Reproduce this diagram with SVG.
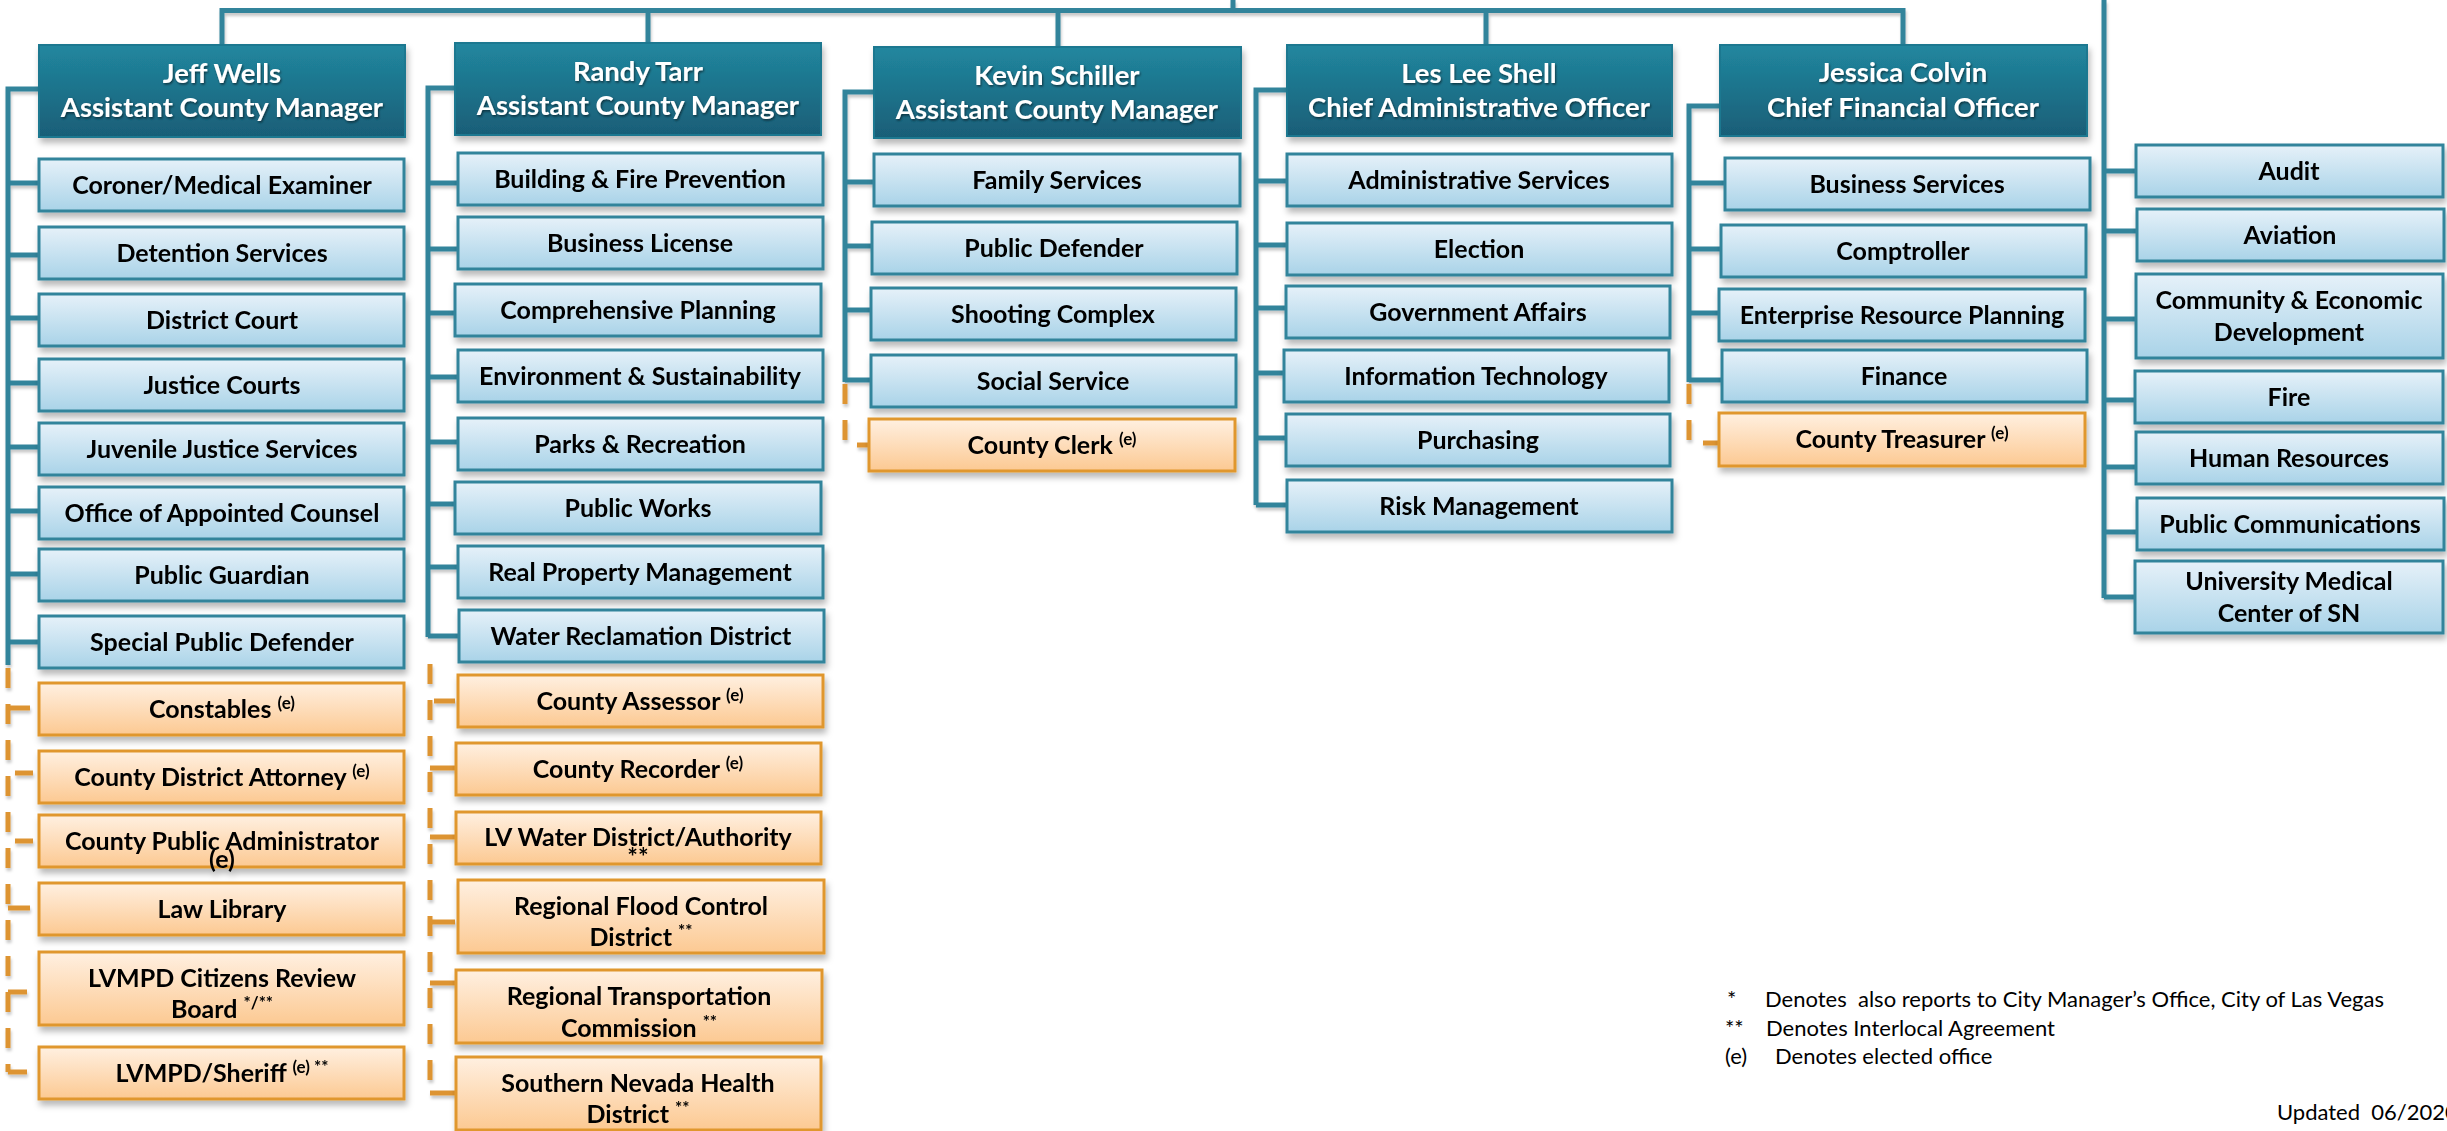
<svg xmlns="http://www.w3.org/2000/svg" width="2447" height="1131" viewBox="0 0 2447 1131">
<defs>
<linearGradient id="gh" x1="0" y1="0" x2="0" y2="1"><stop offset="0" stop-color="#21879F"/><stop offset="1" stop-color="#195E77"/></linearGradient>
<linearGradient id="gb" x1="0" y1="0" x2="0" y2="1"><stop offset="0" stop-color="#E6F1F9"/><stop offset="1" stop-color="#A9D3E8"/></linearGradient>
<linearGradient id="go" x1="0" y1="0" x2="0" y2="1"><stop offset="0" stop-color="#FFF0E1"/><stop offset="1" stop-color="#FCC992"/></linearGradient>
<filter id="sh" x="-5%" y="-20%" width="112%" height="150%"><feDropShadow dx="2" dy="5" stdDeviation="3" flood-color="#000" flood-opacity="0.28"/></filter>
<filter id="ls" x="-5%" y="-5%" width="110%" height="110%"><feDropShadow dx="1" dy="3" stdDeviation="1.5" flood-color="#000" flood-opacity="0.22"/></filter>
<filter id="ts" x="-5%" y="-20%" width="110%" height="150%"><feDropShadow dx="1" dy="1.5" stdDeviation="1" flood-color="#000" flood-opacity="0.55"/></filter>
</defs>
<style>
.node{filter:url(#sh)}
.hdr rect{fill:url(#gh);stroke:#1E7890;stroke-width:2}
.box rect{fill:url(#gb);stroke:#31849B;stroke-width:3}
.obox rect{fill:url(#go);stroke:#E0972F;stroke-width:3}
text{font-family:Lato,"Liberation Sans",sans-serif;font-weight:700;text-anchor:middle;fill:#000}
.hdr text{fill:#fff;font-size:27.5px;filter:url(#ts)}
.box text,.obox text{font-size:25px}
.s{font-size:17px}
.bl{fill:none;stroke:#31849B;stroke-width:5}
.ol{fill:none;stroke:#DD9431;stroke-width:5}
.od{fill:none;stroke:#DD9431;stroke-width:5;stroke-dasharray:20 16}
.lg{font-weight:400;font-size:22px;text-anchor:start;white-space:pre}
</style>

<g id="connectors" filter="url(#ls)">
<path class="bl" d="M222,45 V10.5 H1903 V45 M1233,0 V10.5 M648,10.5 V43 M1058,10.5 V47 M1486,10.5 V45"/>
<path class="bl" d="M39,89 H8 V665 M8,183 H39 M8,255 H39 M8,318 H39 M8,383 H39 M8,447 H39 M8,511 H39 M8,574 H39 M8,642 H39"/>
<path class="bl" d="M455,88 H428 V637 M428,183 H458 M428,249 H458 M428,313 H455 M428,377 H458 M428,442 H458 M428,504 H455 M428,567 H458 M428,636 H459"/>
<path class="bl" d="M874,92 H845 V382 M845,182 H874 M845,246 H872 M845,310 H871 M845,380 H871"/>
<path class="bl" d="M1287,90 H1256 V505 M1256,181 H1287 M1256,245 H1287 M1256,308 H1286 M1256,373 H1284 M1256,438 H1286 M1256,505 H1287"/>
<path class="bl" d="M1720,106 H1689 V382 M1689,183 H1725 M1689,249 H1721 M1689,313 H1719 M1689,380 H1722"/>
<path class="bl" d="M2104,0 V598 M2104,171 H2136 M2104,231 H2137 M2104,319 H2136 M2104,400 H2135 M2104,467 H2136 M2104,532 H2137 M2104,597 H2135"/>
<path class="od" d="M8,668 V1072"/>
<path class="ol" d="M8,708 H30 M15,773 H33 M15,841 H33 M8,908 H30 M8,992 H27 M8,1072 H27"/>
<path class="od" d="M430,664 V1095"/>
<path class="ol" d="M434,701 H455 M430,768 H456 M430,837 H456 M430,922 H455 M430,983 H456 M430,1093 H456"/>
<path class="od" d="M845,384 V445"/>
<path class="ol" d="M857,445 H869"/>
<path class="od" d="M1689,384 V443"/>
<path class="ol" d="M1703,443 H1719"/>
</g>

<g id="jeff-wells" class="node hdr"><rect x="39" y="45" width="366" height="92"/><text x="222" y="83">Jeff Wells</text><text x="222" y="117">Assistant County Manager</text></g>
<g id="randy-tarr" class="node hdr"><rect x="455" y="43" width="366" height="92"/><text x="638" y="81">Randy Tarr</text><text x="638" y="115">Assistant County Manager</text></g>
<g id="kevin-schiller" class="node hdr"><rect x="874" y="47" width="367" height="91"/><text x="1057" y="85">Kevin Schiller</text><text x="1057" y="119">Assistant County Manager</text></g>
<g id="les-lee-shell" class="node hdr"><rect x="1287" y="45" width="385" height="91"/><text x="1479" y="83">Les Lee Shell</text><text x="1479" y="117">Chief Administrative Officer</text></g>
<g id="jessica-colvin" class="node hdr"><rect x="1720" y="45" width="367" height="91"/><text x="1903" y="82">Jessica Colvin</text><text x="1903" y="117">Chief Financial Officer</text></g>

<g id="coroner" class="node box"><rect x="39" y="159" width="365" height="52"/><text x="222" y="194">Coroner/Medical Examiner</text></g>
<g id="detention" class="node box"><rect x="39" y="227" width="365" height="52"/><text x="222" y="262">Detention Services</text></g>
<g id="district-court" class="node box"><rect x="39" y="294" width="365" height="52"/><text x="222" y="329">District Court</text></g>
<g id="justice-courts" class="node box"><rect x="39" y="359" width="365" height="52"/><text x="222" y="394">Justice Courts</text></g>
<g id="juvenile" class="node box"><rect x="39" y="423" width="365" height="52"/><text x="222" y="458">Juvenile Justice Services</text></g>
<g id="appointed-counsel" class="node box"><rect x="39" y="487" width="365" height="52"/><text x="222" y="522">Office of Appointed Counsel</text></g>
<g id="public-guardian" class="node box"><rect x="39" y="549" width="365" height="52"/><text x="222" y="584">Public Guardian</text></g>
<g id="special-pd" class="node box"><rect x="39" y="616" width="365" height="52"/><text x="222" y="651">Special Public Defender</text></g>
<g id="constables" class="node obox"><rect x="39" y="683" width="365" height="52"/><text x="222" y="718">Constables <tspan class="s" dy="-9">(e)</tspan></text></g>
<g id="county-da" class="node obox"><rect x="39" y="751" width="365" height="52"/><text x="222" y="786">County District Attorney <tspan class="s" dy="-9">(e)</tspan></text></g>
<g id="county-pa" class="node obox"><rect x="39" y="815" width="365" height="52"/><text x="222" y="850">County Public Administrator</text><text class="s" x="222" y="868">(e)</text></g>
<g id="law-library" class="node obox"><rect x="39" y="883" width="365" height="52"/><text x="222" y="918">Law Library</text></g>
<g id="lvmpd-crb" class="node obox"><rect x="39" y="952" width="365" height="73"/><text x="222" y="987">LVMPD Citizens Review</text><text x="222" y="1018">Board <tspan class="s" dy="-9">*/**</tspan></text></g>
<g id="lvmpd-sheriff" class="node obox"><rect x="39" y="1047" width="365" height="52"/><text x="222" y="1082">LVMPD/Sheriff <tspan class="s" dy="-9">(e) **</tspan></text></g>

<g id="building-fire" class="node box"><rect x="458" y="153" width="365" height="52"/><text x="640" y="188">Building &amp; Fire Prevention</text></g>
<g id="business-license" class="node box"><rect x="458" y="217" width="365" height="52"/><text x="640" y="252">Business License</text></g>
<g id="comprehensive-planning" class="node box"><rect x="455" y="284" width="366" height="52"/><text x="638" y="319">Comprehensive Planning</text></g>
<g id="environment" class="node box"><rect x="458" y="350" width="365" height="52"/><text x="640" y="385">Environment &amp; Sustainability</text></g>
<g id="parks" class="node box"><rect x="458" y="418" width="365" height="52"/><text x="640" y="453">Parks &amp; Recreation</text></g>
<g id="public-works" class="node box"><rect x="455" y="482" width="366" height="52"/><text x="638" y="517">Public Works</text></g>
<g id="real-property" class="node box"><rect x="458" y="546" width="365" height="52"/><text x="640" y="581">Real Property Management</text></g>
<g id="water-reclamation" class="node box"><rect x="459" y="610" width="365" height="52"/><text x="641" y="645">Water Reclamation District</text></g>
<g id="county-assessor" class="node obox"><rect x="458" y="675" width="365" height="52"/><text x="640" y="710">County Assessor <tspan class="s" dy="-9">(e)</tspan></text></g>
<g id="county-recorder" class="node obox"><rect x="456" y="743" width="365" height="52"/><text x="638" y="778">County Recorder <tspan class="s" dy="-9">(e)</tspan></text></g>
<g id="lv-water" class="node obox"><rect x="456" y="812" width="365" height="52"/><text x="638" y="846">LV Water District/Authority</text><text class="s" x="638" y="866">**</text></g>
<g id="regional-flood" class="node obox"><rect x="458" y="880" width="366" height="73"/><text x="641" y="915">Regional Flood Control</text><text x="641" y="946">District <tspan class="s" dy="-9">**</tspan></text></g>
<g id="rtc" class="node obox"><rect x="456" y="970" width="366" height="73"/><text x="639" y="1005">Regional Transportation</text><text x="639" y="1037">Commission <tspan class="s" dy="-9">**</tspan></text></g>
<g id="snhd" class="node obox"><rect x="456" y="1057" width="365" height="73"/><text x="638" y="1092">Southern Nevada Health</text><text x="638" y="1123">District <tspan class="s" dy="-9">**</tspan></text></g>

<g id="family-services" class="node box"><rect x="874" y="154" width="366" height="52"/><text x="1057" y="189">Family Services</text></g>
<g id="public-defender" class="node box"><rect x="872" y="222" width="365" height="52"/><text x="1054" y="257">Public Defender</text></g>
<g id="shooting-complex" class="node box"><rect x="871" y="288" width="365" height="52"/><text x="1053" y="323">Shooting Complex</text></g>
<g id="social-service" class="node box"><rect x="871" y="355" width="365" height="52"/><text x="1053" y="390">Social Service</text></g>
<g id="county-clerk" class="node obox"><rect x="869" y="419" width="366" height="52"/><text x="1052" y="454">County Clerk <tspan class="s" dy="-9">(e)</tspan></text></g>

<g id="administrative-services" class="node box"><rect x="1287" y="154" width="385" height="52"/><text x="1479" y="189">Administrative Services</text></g>
<g id="election" class="node box"><rect x="1287" y="223" width="385" height="52"/><text x="1479" y="258">Election</text></g>
<g id="government-affairs" class="node box"><rect x="1286" y="286" width="384" height="52"/><text x="1478" y="321">Government Affairs</text></g>
<g id="information-technology" class="node box"><rect x="1284" y="350" width="385" height="52"/><text x="1476" y="385">Information Technology</text></g>
<g id="purchasing" class="node box"><rect x="1286" y="414" width="384" height="52"/><text x="1478" y="449">Purchasing</text></g>
<g id="risk-management" class="node box"><rect x="1287" y="480" width="385" height="52"/><text x="1479" y="515">Risk Management</text></g>

<g id="business-services" class="node box"><rect x="1725" y="158" width="365" height="52"/><text x="1907" y="193">Business Services</text></g>
<g id="comptroller" class="node box"><rect x="1721" y="225" width="365" height="52"/><text x="1903" y="260">Comptroller</text></g>
<g id="erp" class="node box"><rect x="1719" y="289" width="366" height="52"/><text x="1902" y="324">Enterprise Resource Planning</text></g>
<g id="finance" class="node box"><rect x="1722" y="350" width="365" height="52"/><text x="1904" y="385">Finance</text></g>
<g id="county-treasurer" class="node obox"><rect x="1719" y="413" width="366" height="53"/><text x="1902" y="448">County Treasurer <tspan class="s" dy="-9">(e)</tspan></text></g>

<g id="audit" class="node box"><rect x="2136" y="145" width="307" height="52"/><text x="2289" y="180">Audit</text></g>
<g id="aviation" class="node box"><rect x="2137" y="209" width="307" height="52"/><text x="2290" y="244">Aviation</text></g>
<g id="community-economic" class="node box"><rect x="2136" y="274" width="307" height="84"/><text x="2289" y="309">Community &amp; Economic</text><text x="2289" y="341">Development</text></g>
<g id="fire" class="node box"><rect x="2135" y="371" width="308" height="52"/><text x="2289" y="406">Fire</text></g>
<g id="human-resources" class="node box"><rect x="2136" y="432" width="307" height="52"/><text x="2289" y="467">Human Resources</text></g>
<g id="public-communications" class="node box"><rect x="2137" y="498" width="307" height="52"/><text x="2290" y="533">Public Communications</text></g>
<g id="umc" class="node box"><rect x="2135" y="561" width="308" height="72"/><text x="2289" y="590">University Medical</text><text x="2289" y="622">Center of SN</text></g>

<g id="legend">
<text class="lg" x="1727" y="1007">*</text><text class="lg" x="1765" y="1007">Denotes  also reports to City Manager’s Office, City of Las Vegas</text>
<text class="lg" x="1725" y="1036">**</text><text class="lg" x="1766" y="1036">Denotes Interlocal Agreement</text>
<text class="lg" x="1725" y="1064">(e)</text><text class="lg" x="1775" y="1064">Denotes elected office</text>
<text class="lg" x="2277" y="1120">Updated  06/2020</text>
</g>
</svg>
